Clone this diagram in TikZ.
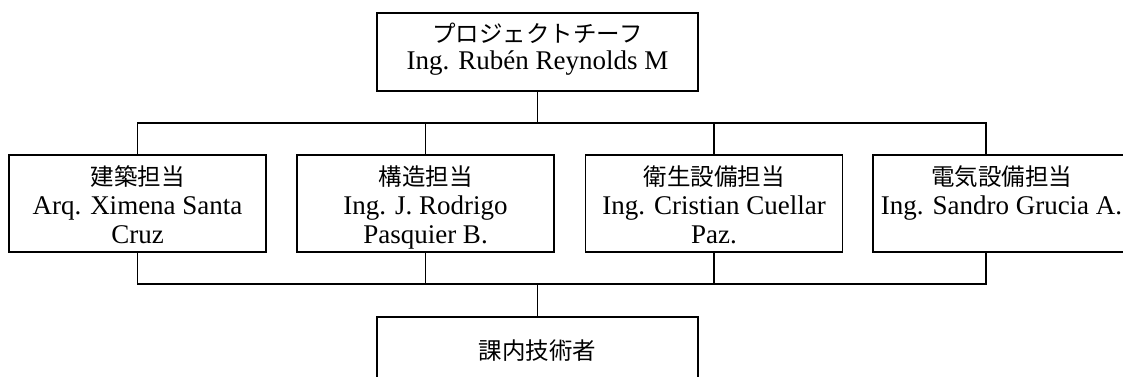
\documentclass[tikz,border=0pt]{standalone}
\usepackage{fontspec}
\setmainfont{Liberation Serif}
\newfontfamily\jpfont{Noto Sans CJK JP}
\newcommand\jpl{\jpfont\fontsize{23.5}{29}\selectfont}
\newcommand\topstrut{\rule{0pt}{30pt}}
\newcommand\lowstrut{\rule[-9pt]{0pt}{9pt}}
\begin{document}
\begin{tikzpicture}[x=1pt,y=-1pt,
  box/.style={draw,line width=1.7pt,minimum width=257pt,minimum height=97pt,align=center,inner sep=0pt,font=\fontsize{27}{29}\selectfont},
  wide/.style={minimum width=321pt,minimum height=78pt},
  link/.style={line width=1.7pt}]
\useasboundingbox (0,0) rectangle (1123,377);
\begin{scope}
\clip (0,0) rectangle (1123,377);
\node[box,wide] (chief) at (537.5,52) {{\jpl プロジェクトチーフ}\rule{0pt}{21pt}\\[-2pt]Ing. Rubén Reynolds M\rule[-13pt]{0pt}{13pt}};
\node[box] (b1) at (137.5,203.5) {{\jpl 建築担当}\topstrut\\Arq. Ximena Santa\\Cruz\lowstrut};
\node[box] (b2) at (425.5,203.5) {{\jpl 構造担当}\topstrut\\Ing. J. Rodrigo\\Pasquier B.\lowstrut};
\node[box] (b3) at (714,203.5) {{\jpl 衛生設備担当}\topstrut\\Ing. Cristian Cuellar\\Paz.\lowstrut};
\node[box] (b4) at (1001.5,203.5) {{\jpl 電気設備担当}\topstrut\\Ing. Sandro Grucia A.\\\lowstrut};
\node[box,wide] (tech) at (537.5,356) {\raisebox{13pt}{\jpl 課内技術者}};
\coordinate (busT) at (537.5,123);
\coordinate (busB) at (537.5,284);
\coordinate (c4) at (986,0);
\draw[link] (chief.south) -- (busT);
\draw[link] (b1.north) |- (busT) -| (b4.north west -| c4);
\draw[link] (b2.north) -- (b2.north |- busT);
\draw[link] (b3.north) -- (b3.north |- busT);
\draw[link] (b1.south) |- (busB) -| (b4.south west -| c4);
\draw[link] (b2.south) -- (b2.south |- busB);
\draw[link] (b3.south) -- (b3.south |- busB);
\draw[link] (busB) -- (tech.north);
\end{scope}
\end{tikzpicture}
\end{document}
